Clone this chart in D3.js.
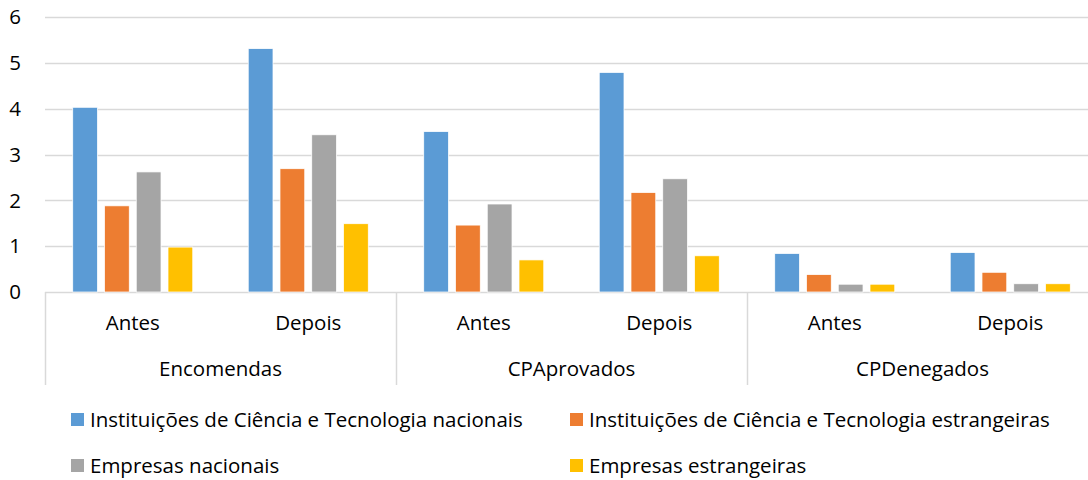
<!DOCTYPE html>
<html>
<head>
  <meta charset="utf-8">
  <script src="https://d3js.org/d3.v7.min.js"></script>
  <style>
    body { margin: 0; background: #fff; }
    text { font-family: "Open Sans", Lato, sans-serif; fill: #000; }
  </style>
</head>
<body>
<div id="chart"></div>
<script>
  // chart data
  var groups = ['Encomendas', 'CPAprovados', 'CPDenegados'];
  var periods = ['Antes', 'Depois'];
  var series = [
    'Instituições de Ciência e Tecnologia nacionais',
    'Instituições de Ciência e Tecnologia estrangeiras',
    'Empresas nacionais',
    'Empresas estrangeiras'
  ];
  var colors = ['#5B9BD5', '#ED7D31', '#A5A5A5', '#FFC000'];
  // one row per series, in order Encomendas Antes/Depois, CPAprovados Antes/Depois, CPDenegados Antes/Depois
  var ictNacionais    = [4.03, 5.31, 3.50, 4.79, 0.84, 0.86];
  var ictEstrangeiras = [1.88, 2.69, 1.46, 2.17, 0.38, 0.43];
  var empNacionais    = [2.62, 3.43, 1.92, 2.47, 0.17, 0.18];
  var empEstrangeiras = [0.98, 1.49, 0.70, 0.79, 0.17, 0.18];
  var yTicks = [0, 1, 2, 3, 4, 5, 6];

  var values = [ictNacionais, ictEstrangeiras, empNacionais, empEstrangeiras];

  var W = 1088, H = 480;
  var margin = { top: 17, left: 45, right: -10, baseline: 292 };
  var fontSize = '20.5px';

  var svg = d3.select('#chart').append('svg')
    .attr('width', W)
    .attr('height', H);

  // flat list of sub-categories
  var cats = [];
  groups.forEach(function(g) {
    periods.forEach(function(p) { cats.push(g + '|' + p); });
  });

  var x = d3.scaleBand()
    .domain(cats)
    .range([margin.left, W - margin.right]);

  var xg = d3.scaleBand()
    .domain(groups)
    .range([margin.left, W - margin.right]);

  var xs = d3.scaleBand()
    .domain(d3.range(series.length))
    .range([x.bandwidth() * 0.158, x.bandwidth() * 0.842])
    .paddingInner(0.22);

  var y = d3.scaleLinear()
    .domain([0, 6])
    .range([margin.baseline, margin.top]);

  // gridlines
  svg.append('g')
    .selectAll('line')
    .data(yTicks)
    .enter()
    .append('line')
    .attr('x1', margin.left)
    .attr('x2', W)
    .attr('y1', function(d) { return Math.round(y(d)) + 0.5; })
    .attr('y2', function(d) { return Math.round(y(d)) + 0.5; })
    .attr('stroke', '#d9d9d9')
    .attr('stroke-width', 1.5);

  // y tick labels
  svg.append('g')
    .selectAll('text')
    .data(yTicks)
    .enter()
    .append('text')
    .attr('x', 15)
    .attr('y', function(d) { return y(d); })
    .attr('dy', '0.35em')
    .attr('text-anchor', 'middle')
    .style('font-size', fontSize)
    .text(function(d) { return d; });

  // bars
  values.forEach(function(vals, si) {
    svg.append('g')
      .selectAll('rect')
      .data(vals)
      .enter()
      .append('rect')
      .attr('x', function(d, i) { return x(cats[i]) + xs(si); })
      .attr('y', function(d) { return y(d); })
      .attr('width', xs.bandwidth())
      .attr('height', function(d) { return margin.baseline - y(d); })
      .attr('fill', colors[si])
      .attr('stroke', '#fff')
      .attr('stroke-width', 0.75);
  });

  // category axis: separators
  var bottomAxis = 385;
  var seps = groups.map(function(g) { return xg(g); });
  svg.append('g')
    .selectAll('line')
    .data(seps)
    .enter()
    .append('line')
    .attr('x1', function(d) { return Math.round(d) + 0.5; })
    .attr('x2', function(d) { return Math.round(d) + 0.5; })
    .attr('y1', margin.baseline)
    .attr('y2', bottomAxis)
    .attr('stroke', '#d9d9d9')
    .attr('stroke-width', 1.5);

  // period labels
  svg.append('g')
    .selectAll('text')
    .data(cats)
    .enter()
    .append('text')
    .attr('x', function(d) { return x(d) + x.bandwidth() / 2; })
    .attr('y', 330)
    .attr('text-anchor', 'middle')
    .style('font-size', fontSize)
    .text(function(d) { return d.split('|')[1]; });

  // group labels
  svg.append('g')
    .selectAll('text')
    .data(groups)
    .enter()
    .append('text')
    .attr('x', function(d) { return xg(d) + xg.bandwidth() / 2; })
    .attr('y', 376)
    .attr('text-anchor', 'middle')
    .style('font-size', fontSize)
    .text(function(d) { return d; });

  // legend
  var legendPos = [[71, 420], [570, 420], [71, 466], [570, 466]];
  var legend = svg.append('g')
    .selectAll('g')
    .data(series)
    .enter()
    .append('g')
    .attr('transform', function(d, i) { return 'translate(' + legendPos[i][0] + ',' + legendPos[i][1] + ')'; });

  legend.append('rect')
    .attr('x', 0)
    .attr('y', -7)
    .attr('width', 13)
    .attr('height', 13)
    .attr('fill', function(d, i) { return colors[i]; });

  legend.append('text')
    .attr('x', 19)
    .attr('y', 0)
    .attr('dy', '0.35em')
    .style('font-size', fontSize)
    .text(function(d) { return d; });
</script>
</body>
</html>
